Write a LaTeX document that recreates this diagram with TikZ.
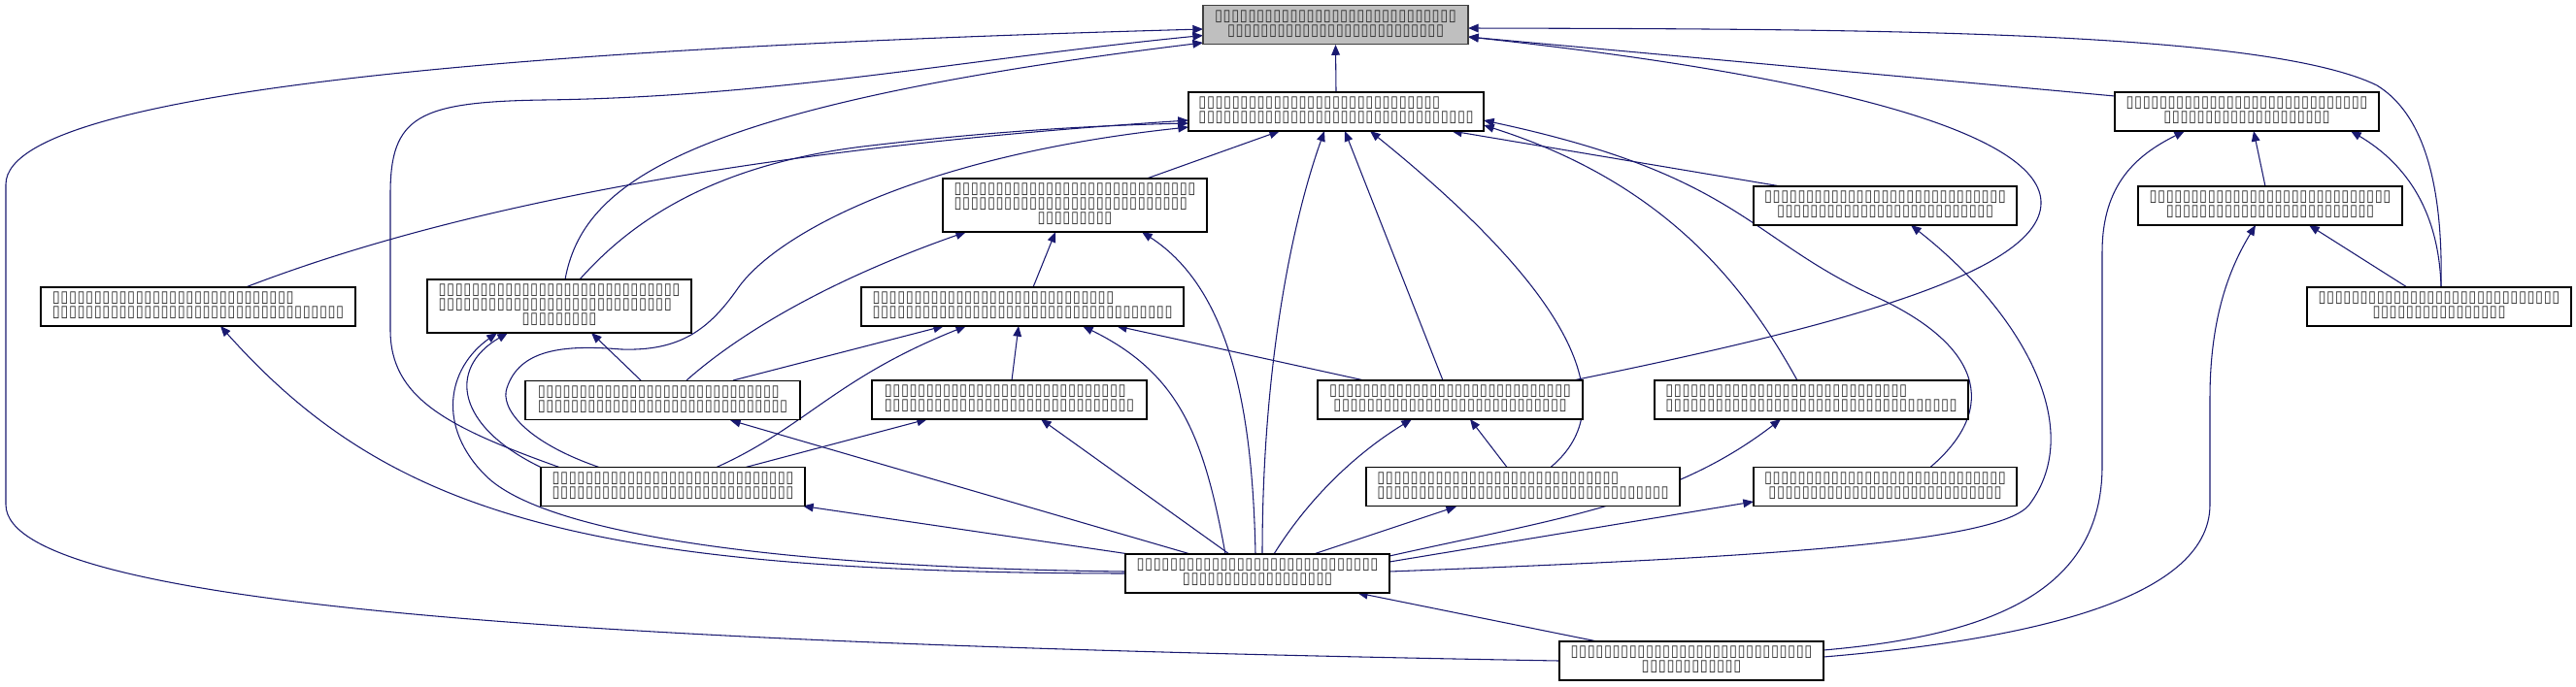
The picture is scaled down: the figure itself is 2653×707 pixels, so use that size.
\documentclass[tikz,border=0pt]{standalone}
\usepackage{fontspec}
\newfontfamily\tofufont{DejaVu Sans}[BoldFont={DejaVu Sans Bold}]
\usetikzlibrary{arrows.meta,calc,backgrounds}
\definecolor{edgeblue}{RGB}{25,25,112}
\definecolor{topgray}{RGB}{191,191,191}
\definecolor{tofugray}{RGB}{50,50,50}
\newcommand\tofu[1]{\foreach\tfi in {1,...,#1}{\makebox[6.45pt]{\resizebox{6pt}{8pt}{▯}}}}
\newcommand\twol[2]{\begin{tabular}{@{}l@{}}\tofu{#1}\\\tofu{#2}\end{tabular}}
\newcommand\twoc[2]{\begin{tabular}{@{}c@{}}\tofu{#1}\\\tofu{#2}\end{tabular}}
\newcommand\threel[3]{\begin{tabular}{@{}l@{}}\tofu{#1}\\\tofu{#2}\\\multicolumn{1}{@{}c@{}}{\tofu{#3}}\end{tabular}}
\tikzset{
  nd/.style={draw=black, line width=0.9pt, fill=white, inner sep=0pt, minimum height=30pt,
    text=tofugray, font=\tofufont\bfseries\fontsize{10}{11.25}\selectfont},
  ndthree/.style={nd, minimum height=41.25pt},
  e/.style={draw=edgeblue, line width=0.8pt, -{Triangle[length=8pt,width=6.5pt]}}
}
\begin{document}
\begin{tikzpicture}[x=0.75pt,y=-0.75pt]
\useasboundingbox (0,0) rectangle (2653,707);
\node[nd, fill=topgray, draw=black!75, minimum width=204.75pt] (n1) at (1375.5,25.5) {\twoc{29}{26}};
\node[nd, minimum width=228pt] (n2) at (1376,115) {\twol{29}{33}};
\node[nd, minimum width=204pt] (n3) at (2314,115) {\twoc{29}{20}};
\node[nd, minimum width=204pt] (n4) at (2338,212) {\twoc{29}{25}};
\node[nd, minimum width=204pt] (n5) at (2512,316) {\twoc{29}{16}};
\node[ndthree, minimum width=204pt] (n6) at (1107,211.5) {\threel{29}{28}{9}};
\node[nd, minimum width=203.25pt] (n7) at (1941.5,212) {\twoc{29}{26}};
\node[nd, minimum width=243pt] (n8) at (204,316) {\twol{29}{35}};
\node[ndthree, minimum width=204pt] (n9) at (576,315.5) {\threel{29}{28}{9}};
\node[nd, minimum width=249pt] (n10) at (1053,316) {\twol{29}{36}};
\node[nd, minimum width=212.25pt] (n11) at (682.5,412.5) {\twol{29}{30}};
\node[nd, minimum width=212.25pt] (n12) at (1039.5,412) {\twol{29}{30}};
\node[nd, minimum width=204.75pt] (n13) at (1493.5,412) {\twoc{29}{28}};
\node[nd, minimum width=242.25pt] (n14) at (1865.5,412) {\twol{29}{35}};
\node[nd, minimum width=204pt] (n15) at (693,501.5) {\twol{29}{29}};
\node[nd, minimum width=242.25pt] (n16) at (1568.5,501.5) {\twol{29}{35}};
\node[nd, minimum width=203.25pt] (n17) at (1941.5,501.5) {\twoc{29}{28}};
\node[nd, minimum width=204pt] (n18) at (1295,591) {\twoc{29}{18}};
\node[nd, minimum width=204pt] (n19) at (1742,681) {\twoc{29}{12}};
\begin{scope}[on background layer]
\draw[e] (n2.north) -- (n1.south);
\draw[e] ($(n3)+(-136,-16)$) -- ($(n1)+(136.5,12.5)$);
\draw[e] ($(n5)+(2,-20)$) .. controls (2516,200) and (2500,120) .. (2448,88) .. controls (2330,30) and (1900,30) .. ($(n1)+(136.5,3.5)$);
\draw[e] ($(n13)+(126.5,-20)$) .. controls (1900,335) and (2100,280) .. (2102,210) .. controls (2104,140) and (1900,80) .. ($(n1)+(136.5,12.5)$);
\draw[e] (n19.west) .. controls (700,665) and (6,632) .. (6,520) -- (6,190) .. controls (6,80) and (700,45) .. ($(n1)+(-136.5,4.5)$);
\draw[e] ($(n15)+(-117,-20)$) .. controls (460,440) and (402,410) .. (402,340) -- (402,200) .. controls (402,120) and (430,105) .. (560,103) .. controls (800,100) and (1000,60) .. ($(n1)+(-136.5,11)$);
\draw[e] ($(n9)+(6,-27.5)$) .. controls (600,190) and (700,110) .. ($(n1)+(-136.5,18.5)$);
\draw[e] ($(n9)+(21,-27.5)$) .. controls (640,240) and (720,170) .. (897,150) .. controls (1000,138) and (1100,130) .. ($(n2)+(-152,12)$);
\draw[e] ($(n8)+(49,-20)$) .. controls (450,220) and (750,155) .. ($(n2)+(-152,9)$);
\draw[e] ($(n15)+(-76,-20)$) .. controls (540,455) and (515,420) .. (522,400) .. controls (535,360) and (580,355) .. (640,360) .. controls (700,362) and (730,340) .. (760,297) .. controls (800,240) and (950,160) .. ($(n2)+(-152,16)$);
\draw[e] ($(n6)+(74,-27.5)$) -- ($(n2)+(-58,20)$);
\draw[e] ($(n18)+(5,-20)$) .. controls (1300,380) and (1330,230) .. ($(n2)+(-12,20)$);
\draw[e] ($(n13)+(-7.5,-20)$) -- ($(n2)+(9,20)$);
\draw[e] ($(n16)+(28.5,-20)$) .. controls (1665,425) and (1640,320) .. ($(n2)+(35,20)$);
\draw[e] ($(n7)+(-107.5,-20)$) -- ($(n2)+(119,20)$);
\draw[e] ($(n14)+(-14.5,-20)$) .. controls (1800,300) and (1720,190) .. ($(n2)+(152,14)$);
\draw[e] ($(n17)+(46.5,-20)$) .. controls (2060,420) and (2040,355) .. (1930,305) .. controls (1800,245) and (1790,180) .. ($(n2)+(152,9)$);
\draw[e] ($(n10)+(11,-20)$) -- ($(n6)+(-20,27.5)$);
\draw[e] ($(n11)+(24.5,-20.5)$) .. controls (760,345) and (850,290) .. ($(n6)+(-112,27.5)$);
\draw[e] ($(n18)+(-2,-20)$) .. controls (1290,430) and (1270,300) .. ($(n6)+(69,27.5)$);
\draw[e] ($(n11)+(-22.5,-20.5)$) -- ($(n9)+(33,27.5)$);
\draw[e] ($(n11)+(72.5,-20.5)$) -- ($(n10)+(-81,20)$);
\draw[e] ($(n15)+(-135,-19.5)$) .. controls (470,440) and (460,380) .. ($(n9)+(-53,27.5)$);
\draw[e] ($(n18)+(-136,-2)$) .. controls (800,585) and (560,550) .. (500,490) .. controls (450,440) and (460,380) .. ($(n9)+(-64,27.5)$);
\draw[e] ($(n18)+(-136,0)$) .. controls (600,590) and (400,530) .. ($(n8)+(23,20)$);
\draw[e] ($(n15)+(45,-20)$) .. controls (830,440) and (860,390) .. ($(n10)+(-58,20)$);
\draw[e] ($(n15)+(75,-20)$) -- ($(n12)+(-84.5,20)$);
\draw[e] ($(n12)+(2.5,-20)$) -- ($(n10)+(-4,20)$);
\draw[e] ($(n18)+(-33,-20)$) .. controls (1240,450) and (1215,385) .. ($(n10)+(62,20)$);
\draw[e] ($(n13)+(-88.5,-20)$) -- ($(n10)+(97,20)$);
\draw[e] ($(n18)+(-69,-20)$) -- ($(n11)+(69.5,20.5)$);
\draw[e] ($(n18)+(-29,-20)$) -- ($(n12)+(32.5,20)$);
\draw[e] ($(n18)+(17,-20)$) .. controls (1350,510) and (1400,465) .. ($(n13)+(-39.5,20)$);
\draw[e] ($(n16)+(-16.5,-20)$) -- ($(n13)+(20.5,20)$);
\draw[e] ($(n18)+(136,-18)$) .. controls (1600,535) and (1720,520) .. ($(n14)+(-31.5,20)$);
\draw[e] ($(n18)+(136,-12)$) -- ($(n17)+(-135.5,15.5)$);
\draw[e] ($(n18)+(58,-20)$) -- ($(n16)+(-68.5,20.5)$);
\draw[e] ($(n18)+(-132,-20)$) -- ($(n15)+(134,20)$);
\draw[e] ($(n18)+(136,-2)$) .. controls (1800,575) and (2060,560) .. (2090,520) .. controls (2150,440) and (2080,320) .. ($(n7)+(26.5,20)$);
\draw[e] ($(n19)+(136,-11)$) .. controls (2050,655) and (2165,610) .. (2165,480) -- (2165,260) .. controls (2165,190) and (2200,160) .. ($(n3)+(-64,20)$);
\draw[e] ($(n19)+(136,-4)$) .. controls (2080,660) and (2276,620) .. (2276,520) -- (2276,410) .. controls (2276,320) and (2300,270) .. ($(n4)+(-15,20)$);
\draw[e] ($(n4)+(-5,-20)$) -- ($(n3)+(7,20)$);
\draw[e] ($(n5)+(2,-20)$) .. controls (2512,220) and (2480,170) .. ($(n3)+(107,20)$);
\draw[e] ($(n5)+(-33,-20)$) -- ($(n4)+(40,20)$);
\draw[e] ($(n19)+(-97,-20)$) -- ($(n18)+(103,20)$);
\end{scope}
\end{tikzpicture}
\end{document}
